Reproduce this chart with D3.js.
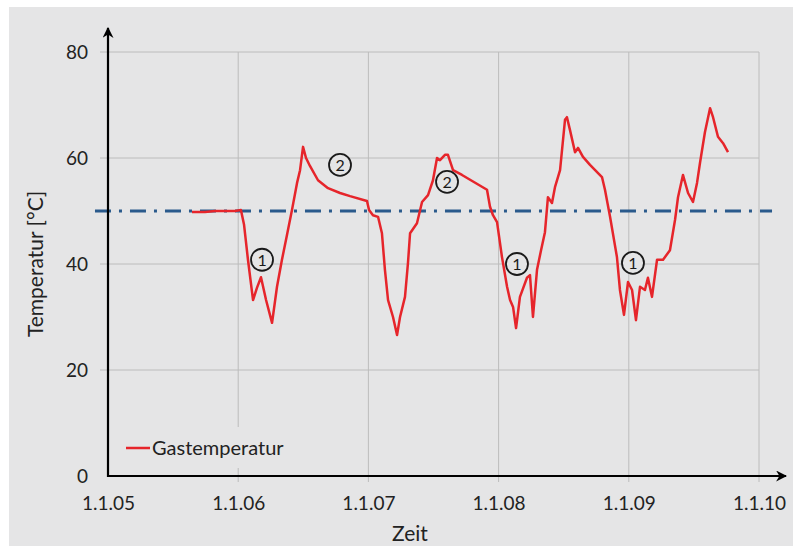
<!DOCTYPE html>
<html>
<head>
<meta charset="utf-8">
<script src="https://cdn.jsdelivr.net/npm/d3@7"></script>
<style>
  body { margin: 0; background: #fff; }
  text { font-family: Lato, "Liberation Sans", sans-serif; }
</style>
</head>
<body>
<div id="container"></div>
<script>
/* CONSTANTS AND GLOBALS */
const width = 793,
  height = 546,
  margin = { top: 52, bottom: 70, left: 108, right: 34 },
  bg = "#e5e5e6";

// time in decimal years (1.1.05 = 2005.0)
const years = [
  2005.645, 2005.745, 2005.822, 2005.899, 2005.975, 2006.021,
  2006.045, 2006.075, 2006.114, 2006.144, 2006.175, 2006.214, 2006.260, 2006.298,
  2006.336, 2006.375, 2006.413, 2006.452, 2006.475, 2006.498,
  2006.521, 2006.551, 2006.613, 2006.690, 2006.782, 2006.859, 2006.989, 2007.005, 2007.035,
  2007.074, 2007.104, 2007.127, 2007.151, 2007.189, 2007.220, 2007.243, 2007.281,
  2007.304, 2007.320, 2007.373, 2007.412, 2007.458, 2007.496, 2007.527, 2007.550,
  2007.588, 2007.611, 2007.650, 2007.719, 2007.911, 2007.934, 2007.957, 2007.988,
  2008.026, 2008.065, 2008.088, 2008.111, 2008.134, 2008.164, 2008.218, 2008.241,
  2008.264, 2008.295, 2008.326, 2008.356, 2008.379, 2008.410, 2008.433, 2008.472,
  2008.510, 2008.525, 2008.548, 2008.587, 2008.610, 2008.648, 2008.702, 2008.794,
  2008.817, 2008.856, 2008.909, 2008.932, 2008.963, 2008.994, 2009.025, 2009.055,
  2009.086, 2009.124, 2009.147, 2009.178, 2009.217, 2009.263, 2009.316, 2009.355,
  2009.378, 2009.416, 2009.455, 2009.493, 2009.524, 2009.547, 2009.585, 2009.624,
  2009.647, 2009.685, 2009.724, 2009.762
];
const gasTemp = [
  49.8, 49.8, 50.0, 50.0, 50.0, 50.2,
  47.4, 40.8, 33.2, 35.5, 37.5, 33.2, 28.9, 35.7,
  40.8, 45.5, 50.2, 55.3, 57.7, 62.1,
  60.0, 58.5, 55.8, 54.3, 53.4, 52.8, 51.9, 50.2, 49.2,
  48.9, 45.8, 38.9, 33.2, 30.0, 26.6, 30.0, 33.8,
  40.2, 45.8, 47.7, 51.7, 53.0, 55.8, 60.0, 59.6,
  60.6, 60.6, 57.7, 56.8, 54.0, 50.8, 49.2, 47.9,
  41.3, 35.7, 33.2, 31.9, 27.9, 33.8, 37.4, 37.9,
  30.0, 38.9, 42.6, 46.0, 52.6, 51.5, 54.5, 57.7,
  67.2, 67.7, 65.3, 61.1, 61.9, 60.2, 58.7, 56.4,
  54.0, 48.9, 41.3, 35.1, 30.4, 36.6, 35.1, 29.4,
  35.7, 35.1, 37.4, 33.8, 40.8, 40.8, 42.6, 48.3,
  52.6, 56.8, 53.4, 51.7, 55.3, 59.1, 64.9, 69.4,
  67.7, 64.0, 62.8, 61.1
];

// dash-dot reference line at 50 °C
const limitTemp = 50;
const limitYears = [2004.9, 2010.1];

// circled markers: label, year, temperature
const markLabels = ["1", "2", "2", "1", "1"];
const markYears = [2006.183, 2006.782, 2007.604, 2008.141, 2009.032];
const markTemps = [40.8, 58.7, 55.5, 40.0, 40.2];

const xTicks = [2005, 2006, 2007, 2008, 2009, 2010];
const yTicks = [0, 20, 40, 60, 80];

let svg, xScale, yScale;

init();

function init() {
  svg = d3.select("#container")
    .append("svg")
    .attr("width", width)
    .attr("height", height);

  // grey panel
  svg.append("rect")
    .attr("x", 9).attr("y", 7)
    .attr("width", width - 9).attr("height", height - 7)
    .attr("fill", bg);

  xScale = d3.scaleLinear()
    .domain([2005, 2010])
    .range([margin.left, width - margin.right]);

  yScale = d3.scaleLinear()
    .domain([0, 80])
    .range([height - margin.bottom, margin.top]);

  const x0 = xScale(2005), x1 = xScale(2010), y0 = yScale(0), y1 = yScale(80);

  // gridlines
  svg.append("g")
    .selectAll("line")
    .data(yTicks.slice(1))
    .join("line")
    .attr("x1", x0 - 8).attr("x2", x1)
    .attr("y1", d => yScale(d)).attr("y2", d => yScale(d))
    .attr("stroke", "#bcbcbc").attr("stroke-width", 1);

  svg.append("g")
    .selectAll("line")
    .data(xTicks.slice(1))
    .join("line")
    .attr("x1", d => xScale(d)).attr("x2", d => xScale(d))
    .attr("y1", y1).attr("y2", y0 + 6)
    .attr("stroke", "#bcbcbc").attr("stroke-width", 1);

  // legend box covers the grid
  svg.append("rect")
    .attr("x", 118).attr("y", 427)
    .attr("width", 182).attr("height", 41)
    .attr("fill", bg);

  // axis labels
  const xAxis = d3.axisBottom(xScale)
    .tickValues(xTicks)
    .tickSize(0)
    .tickPadding(21)
    .tickFormat(d => "1.1." + String(d).slice(2));

  const yAxis = d3.axisLeft(yScale)
    .tickValues(yTicks)
    .tickSize(0)
    .tickPadding(20);

  const xg = svg.append("g")
    .attr("transform", `translate(0, ${y0})`)
    .call(xAxis);
  const yg = svg.append("g")
    .attr("transform", `translate(${x0}, 0)`)
    .call(yAxis);
  [xg, yg].forEach(g => {
    g.select(".domain").remove();
    g.selectAll("text")
      .attr("font-family", "Lato, 'Liberation Sans', sans-serif")
      .attr("font-size", 19)
      .attr("fill", "#222");
  });

  // reference line
  svg.append("line")
    .attr("x1", xScale(limitYears[0])).attr("x2", xScale(limitYears[1]))
    .attr("y1", yScale(limitTemp)).attr("y2", yScale(limitTemp))
    .attr("stroke", "#2a5a8c")
    .attr("stroke-width", 3)
    .attr("stroke-dasharray", "16,8,3,8");

  // the measured line
  const line = d3.line()
    .x((d, i) => xScale(years[i]))
    .y(d => yScale(d));

  svg.append("path")
    .datum(gasTemp)
    .attr("d", line)
    .attr("fill", "none")
    .attr("stroke", "#e6252b")
    .attr("stroke-width", 2.5)
    .attr("stroke-linejoin", "round");

  // circled markers
  const marks = svg.append("g")
    .selectAll("g")
    .data(markLabels)
    .join("g")
    .attr("transform", (d, i) => `translate(${xScale(markYears[i])}, ${yScale(markTemps[i])})`);
  marks.append("circle")
    .attr("r", 11)
    .attr("fill", bg)
    .attr("stroke", "#1a1a1a")
    .attr("stroke-width", 1.8);
  marks.append("text")
    .attr("text-anchor", "middle")
    .attr("dy", "0.36em")
    .attr("font-size", 16)
    .attr("fill", "#1a1a1a")
    .text(d => d);

  // axes with arrows
  svg.append("defs").append("marker")
    .attr("id", "arrow")
    .attr("viewBox", "0 0 10 10")
    .attr("refX", 9).attr("refY", 5)
    .attr("markerWidth", 5).attr("markerHeight", 5)
    .attr("markerUnits", "strokeWidth")
    .attr("orient", "auto")
    .append("path")
    .attr("d", "M0,0 L10,5 L0,10 L3,5 Z")
    .attr("fill", "#000");

  svg.append("line")
    .attr("x1", x0).attr("x2", x0)
    .attr("y1", y0 + 1).attr("y2", 28)
    .attr("stroke", "#000").attr("stroke-width", 2.2)
    .attr("marker-end", "url(#arrow)");

  svg.append("line")
    .attr("x1", x0 - 1).attr("x2", 786)
    .attr("y1", y0).attr("y2", y0)
    .attr("stroke", "#000").attr("stroke-width", 2.2)
    .attr("marker-end", "url(#arrow)");

  // legend
  svg.append("line")
    .attr("x1", 126).attr("x2", 150)
    .attr("y1", 448).attr("y2", 448)
    .attr("stroke", "#e6252b").attr("stroke-width", 2.5);
  svg.append("text")
    .attr("x", 152).attr("y", 448)
    .attr("dy", "0.35em")
    .attr("font-size", 20)
    .attr("fill", "#222")
    .text("Gastemperatur");

  // axis titles
  svg.append("text")
    .attr("x", 410).attr("y", 541)
    .attr("text-anchor", "middle")
    .attr("font-size", 21)
    .attr("fill", "#222")
    .text("Zeit");

  svg.append("text")
    .attr("transform", `translate(43, 264) rotate(-90)`)
    .attr("text-anchor", "middle")
    .attr("font-size", 21)
    .attr("fill", "#222")
    .text("Temperatur [°C]");
}
</script>
</body>
</html>
